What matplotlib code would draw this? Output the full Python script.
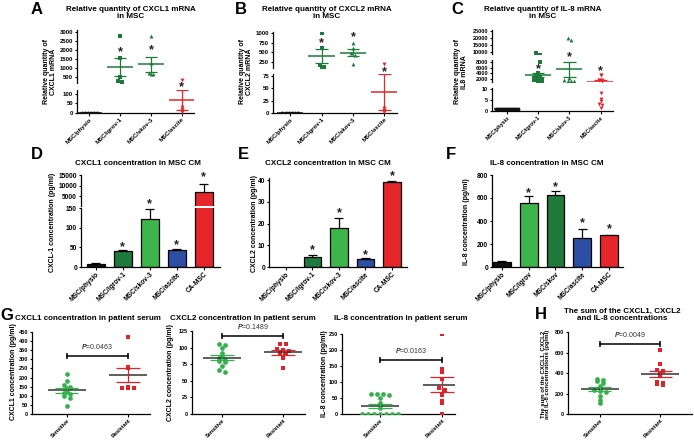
import numpy as np
import matplotlib.pyplot as plt

plt.rcParams['font.family'] = ['Liberation Sans', 'DejaVu Sans']
plt.rcParams['font.weight'] = 'bold'
plt.rcParams['mathtext.fontset'] = 'custom'
plt.rcParams['mathtext.it'] = 'Liberation Sans:italic'
plt.rcParams['mathtext.rm'] = 'Liberation Sans'

# ---- data ----
mrna_cats = ['MSC/physio', 'MSC/igrov-1', 'MSC/skov-3', 'MSC/ascite']

cxcl1_mrna_physio = [1, 1, 1, 1, 1, 1]
cxcl1_mrna_igrov = [2800, 1550, 500, 280, 220]
cxcl1_mrna_skov = [2800, 1250, 700, 680, 650]
cxcl1_mrna_ascite = [330, 30, 20, 12, 8, 6]

cxcl2_mrna_physio = [0.5, 0.5, 0.5, 0.5, 0.5, 0.5]
cxcl2_mrna_igrov = [1000, 620, 160, 130, 110]
cxcl2_mrna_skov = [750, 600, 480, 420, 200]
cxcl2_mrna_ascite = [190, 10, 7, 5, 3]

il8_mrna_physio = [1] * 12
il8_mrna_igrov = [9500, 8000, 4000, 3200, 2800, 2500, 2200, 2000, 1800, 1500, 1200, 1200]
il8_mrna_skov = [20000, 18500, 2500, 1500, 1400, 1300, 1200, 1100, 1000]
il8_mrna_ascite = [3500, 3400, 1800, 1600, 1500, 1400, 8, 5.5, 4.5, 3, 2.5, 1.5]

cm_cats = ['MSC/physio', 'MSC/igrov-1', 'MSC/skov-3', 'MSC/ascite', 'CA-MSC']
cm_cats_f = ['MSC/physio', 'MSC/igrov', 'MSC/skov', 'MSC/ascite', 'CA-MSC']
cxcl1_cm = [8, 40, 123, 42, 7000]
cxcl1_cm_err = [1.5, 3, 25, 3, 3600]
cxcl2_cm = [0, 4.5, 18, 3.7, 39.3]
cxcl2_cm_err = [0, 1, 4.5, 0.5, 0.3]
il8_cm = [40, 560, 625, 255, 275]
il8_cm_err = [8, 60, 40, 75, 5]

serum_cats = ['Sensitive', 'Resistant']
serum_cxcl1_sens = [220, 180, 160, 150, 140, 120, 115, 110, 100, 90, 45]
serum_cxcl1_res = [420, 260, 250, 145, 140, 140, 150]
serum_cxcl2_sens = [106, 104, 100, 92, 88, 85, 82, 80, 78, 72, 66, 64]
serum_cxcl2_res = [106, 105, 98, 97, 95, 92, 90, 85, 70]
serum_il8_sens = [62, 62, 62, 60, 50, 35, 30, 20, 0, 0, 0, 0, 0, 0, 0]
serum_il8_res = [250, 140, 130, 110, 80, 75, 60, 40, 35, 0]
serum_sum_sens = [340, 330, 320, 300, 270, 250, 230, 220, 210, 180, 140, 110]
serum_sum_res = [620, 490, 430, 420, 390, 370, 310, 300, 290, 285]
p_values = ['0.0463', '0.1489', '0.0163', '0.0049']

BLACK = '#111111'
DGREEN = '#1d7a3a'
LGREEN = '#3cb54a'
BLUE = '#2c4ea3'
RED = '#e5262b'
SGREEN = '#33b24c'
SRED = '#e0222b'

W, H = 694, 444
fig = plt.figure(figsize=(W / 100, H / 100), dpi=100)


def px_axes(x0, y0, x1, y1, tsize=4.3):
    ax = fig.add_axes([x0 / W, 1 - y1 / H, (x1 - x0) / W, (y1 - y0) / H])
    ax.patch.set_alpha(0)
    ax.spines['top'].set_visible(False)
    ax.spines['right'].set_visible(False)
    ax.spines['left'].set_linewidth(0.9)
    ax.spines['bottom'].set_linewidth(0.9)
    ax.tick_params(width=0.8, length=1.8, labelsize=tsize, pad=1)
    return ax


def ftext(x, y, s, **kw):
    return fig.text(x / W, 1 - y / H, s, **kw)


def broken(boxes, ylims, yticks, xlim, labels, tsize=4.3):
    axes = []
    for i, (box, yl, yt) in enumerate(zip(boxes, ylims, yticks)):
        ax = px_axes(*box, tsize=tsize)
        ax.set_xlim(*xlim)
        ax.set_ylim(*yl)
        ax.set_yticks(yt)
        if i < len(boxes) - 1:
            ax.spines['bottom'].set_visible(False)
            ax.set_xticks([])
        else:
            ax.set_xticks(range(len(labels)))
            ax.set_xticklabels(labels, rotation=45, ha='right', rotation_mode='anchor')
        axes.append(ax)
    return axes


def swarm(keys, bin_w, step):
    keys = np.asarray(keys, float)
    bins = np.round(keys / bin_w).astype(int)
    offs = np.zeros(len(keys))
    for b in np.unique(bins):
        idx = np.where(bins == b)[0]
        offs[idx] = (np.arange(len(idx)) - (len(idx) - 1) / 2) * step
    return offs


def dot_group(axes, x, vals, color, marker, mean_color, offs,
              half_mean=0.42, half_cap=0.2, ms=3):
    vals = np.asarray(vals, float)
    m = vals.mean()
    e = vals.std(ddof=1) / np.sqrt(len(vals))
    for ax in axes:
        ax.plot(x + offs, vals, ls='none', marker=marker, color=color, ms=ms, mew=0, zorder=3)
        ax.hlines(m, x - half_mean, x + half_mean, color=mean_color, lw=1.1, zorder=4)
        ax.vlines(x, m - e, m + e, color=color, lw=0.9, zorder=4)
        ax.hlines([m - e, m + e], x - half_cap, x + half_cap, color=color, lw=0.9, zorder=4)


def mrna_panel(axes, groups, step):
    styles = [(BLACK, 'o', BLACK), (DGREEN, 's', DGREEN), (DGREEN, '^', DGREEN), (RED, 'v', RED)]
    for i, (vals, (c, mk, mc)) in enumerate(zip(groups, styles)):
        offs = swarm(np.log10(np.asarray(vals, float) + 1), 0.12, step[i])
        dot_group(axes, i, vals, c, mk, mc, offs, ms=2.8)


def star(ax, x, y, size=9):
    ax.text(x, y, '*', ha='center', va='center', fontsize=size, clip_on=False, color='#222222')


def bar_panel(axes, vals, errs, colors):
    pos = np.arange(len(vals))
    vals = np.asarray(vals, float)
    tops = vals + np.asarray(errs, float)
    colors = np.array(colors)
    for ax in axes:
        # only the bars that reach into this (possibly broken) axis
        keep = vals > ax.get_ylim()[0]
        ax.bar(pos[keep], vals[keep], width=0.66, color=colors[keep], edgecolor='black',
               lw=0.9, zorder=2)
        ax.vlines(pos[keep], vals[keep], tops[keep], color='black', lw=0.9, zorder=1)
        ax.hlines(tops[keep], pos[keep] - 0.17, pos[keep] + 0.17, color='black', lw=0.9, zorder=1)


def serum_panel(ax, sens, res, ytop, ybr, ptxt):
    o1 = swarm(np.asarray(sens, float) / ytop, 0.035, 0.095)
    o2 = swarm(np.asarray(res, float) / ytop, 0.035, 0.095)
    dot_group([ax], 0, sens, SGREEN, 'o', '#333333', o1, half_mean=0.31, half_cap=0.19, ms=3.4)
    dot_group([ax], 1, res, SRED, 's', '#333333', o2, half_mean=0.31, half_cap=0.19, ms=3.2)
    cap = ytop * 0.035
    ax.plot([0, 1], [ybr, ybr], color='black', lw=1.1)
    ax.vlines([0, 1], ybr - cap, ybr + cap, color='black', lw=1.1)
    ax.text(0.5, ybr + ytop * 0.06, r'$\it{P}$=' + ptxt, ha='center', va='bottom',
            fontsize=5, fontweight='normal', color='#333333')
    ax.set_xticks([0, 1])
    ax.set_xticklabels(serum_cats, rotation=45, ha='right', rotation_mode='anchor')


title_kw = dict(ha='center', va='center', fontsize=5.8, fontweight='bold', linespacing=1.15)
ylab_kw = dict(ha='center', va='center', rotation=90, fontsize=5, fontweight='bold', linespacing=1.1)
letter_kw = dict(ha='left', va='top', fontsize=12, fontweight='bold')

# ---- A ----
axA = broken([(77, 30, 194, 83), (77, 90, 194, 113)], [(167, 3110), (0, 121)],
             [[500, 1000, 1500, 2000, 2500, 3000], [0, 50, 100]], (-0.4, 3.4), mrna_cats)
mrna_panel(axA, [cxcl1_mrna_physio, cxcl1_mrna_igrov, cxcl1_mrna_skov, cxcl1_mrna_ascite],
           [0.1, 0.13, 0.13, 0.13])
star(axA[0], 1, 1890)
star(axA[0], 2, 2000)
star(axA[1], 3, 137)
ftext(131, 13, 'Relative quantity of CXCL1 mRNA\nin MSC', **title_kw)
ftext(50, 72, 'Relative quantity of\nCXCL1 mRNA', **ylab_kw)
ftext(31, 2, 'A', **letter_kw)

# ---- B ----
axB = broken([(273, 32, 397, 68), (273, 74, 397, 113)], [(95, 1026), (0, 79)],
             [[250, 500, 750, 1000], [0, 25, 50, 75]], (-0.55, 3.4), mrna_cats)
mrna_panel(axB, [cxcl2_mrna_physio, cxcl2_mrna_igrov, cxcl2_mrna_skov, cxcl2_mrna_ascite],
           [0.1, 0.13, 0.13, 0.13])
star(axB[0], 1, 742)
star(axB[0], 2, 897)
star(axB[1], 3, 83)
ftext(327, 13, 'Relative quantity of CXCL2 mRNA\nin MSC', **title_kw)
ftext(246, 72, 'Relative quantity of\nCXCL2 mRNA', **ylab_kw)
ftext(235, 2, 'B', **letter_kw)

# ---- C ----
axC = broken([(492, 30, 613, 54), (492, 60, 613, 82), (492, 88, 613, 111)],
             [(8570, 25700), (940, 8700), (0, 10.45)],
             [[10000, 15000, 20000, 25000], [2000, 4000, 6000, 8000], [0, 5, 10]],
             (-0.48, 3.4), mrna_cats, tsize=4)
mrna_panel(axC, [il8_mrna_physio, il8_mrna_igrov, il8_mrna_skov, il8_mrna_ascite],
           [0.065, 0.13, 0.11, 0.12])
star(axC[1], 1, 5520)
star(axC[1], 2, 9760)
star(axC[1], 3, 4810)
ftext(543, 13, 'Relative quantity of IL-8 mRNA\nin MSC', **title_kw)
ftext(461, 72, 'Relative quantity of\nIL8 mRNA', **ylab_kw)
ftext(451, 2, 'C', **letter_kw)

# ---- D ----
cm_colors_de = [BLACK, DGREEN, LGREEN, BLUE, RED]
cm_colors_f = [BLACK, LGREEN, DGREEN, BLUE, RED]
axD = broken([(81, 175, 220, 206), (81, 208, 220, 267)], [(240, 15000), (0, 150)],
             [[5000, 10000, 15000], [0, 50, 100, 150]], (-0.55, 4.6), cm_cats, tsize=4.8)
bar_panel(axD, cxcl1_cm, cxcl1_cm_err, cm_colors_de)
star(axD[1], 1, 51)
star(axD[1], 2, 160)
star(axD[1], 3, 56)
star(axD[0], 4, 14000)
ftext(138, 163, 'CXCL1 concentration in MSC CM', **title_kw)
ftext(53, 222, 'CXCL-1 concentration (pg/ml)', **ylab_kw)
ftext(31, 147, 'D', **letter_kw)

# ---- E ----
axE = broken([(269, 178, 407, 267)], [(0, 41)], [[0, 10, 20, 30, 40]], (-0.64, 4.57), cm_cats,
             tsize=4.8)
bar_panel(axE, cxcl2_cm, cxcl2_cm_err, cm_colors_de)
star(axE[0], 1, 7.8)
star(axE[0], 2, 24.8)
star(axE[0], 3, 5.5)
star(axE[0], 4, 41.8)
ftext(328, 163, 'CXCL2 concentration in MSC CM', **title_kw)
ftext(255, 223, 'CXCL2 concentration (pg/ml)', **ylab_kw)
ftext(238, 147, 'E', **letter_kw)

# ---- F ----
axF = broken([(492, 175, 623, 267)], [(0, 800)], [[0, 200, 400, 600, 800]], (-0.37, 4.52),
             cm_cats_f, tsize=4.8)
bar_panel(axF, il8_cm, il8_cm_err, cm_colors_f)
star(axF[0], 1, 643)
star(axF[0], 2, 696)
star(axF[0], 3, 383)
star(axF[0], 4, 330)
ftext(547, 163, 'IL-8 concentration in MSC CM', **title_kw)
ftext(467, 222, 'IL-8 concentration (pg/ml)', **ylab_kw)
ftext(446, 147, 'F', **letter_kw)

# ---- G ----
axG1 = px_axes(32, 332, 150, 414, tsize=4)
axG1.set_xlim(-0.57, 1.36)
axG1.set_ylim(0, 450)
axG1.set_yticks(range(0, 451, 50))
serum_panel(axG1, serum_cxcl1_sens, serum_cxcl1_res, 450, 320, p_values[0])
ftext(88, 318, 'CXCL1 concentration in patient serum', **title_kw)
ftext(14, 372, 'CXCL1 concentration (pg/ml)', **ylab_kw)
ftext(0, 308, 'G', **letter_kw)

axG2 = px_axes(192, 331, 305, 414, tsize=4)
axG2.set_xlim(-0.49, 1.36)
axG2.set_ylim(0, 125)
axG2.set_yticks([0, 25, 50, 75, 100, 125])
serum_panel(axG2, serum_cxcl2_sens, serum_cxcl2_res, 125, 118, p_values[1])
ftext(243, 318, 'CXCL2 concentration in patient serum', **title_kw)
ftext(171, 372, 'CXCL2 concentration (pg/ml)', **ylab_kw)

axG3 = px_axes(342, 334, 455, 414, tsize=4)
axG3.set_xlim(-0.61, 1.21)
axG3.set_ylim(0, 250)
axG3.set_yticks([0, 50, 100, 150, 200, 250])
serum_panel(axG3, serum_il8_sens, serum_il8_res, 250, 168, p_values[2])
ftext(401, 318, 'IL-8 concentration in patient serum', **title_kw)
ftext(324, 374, 'IL-8 concentration (pg/ml)', **ylab_kw)

# ---- H ----
axH = px_axes(568, 332, 692, 414, tsize=4)
axH.set_xlim(-0.53, 1.53)
axH.set_ylim(0, 800)
axH.set_yticks([0, 200, 400, 600, 800])
serum_panel(axH, serum_sum_sens, serum_sum_res, 800, 680, p_values[3])
ftext(622, 315, 'The sum of the CXCL1, CXCL2\nand IL-8 concentrations', **title_kw)
ftext(545, 374, 'The sum of the CXCL1, CXCL2\nand IL-8 concentrations (pg/ml)',
      **dict(ylab_kw, fontsize=4.3))
ftext(535, 307, 'H', **letter_kw)

fig.savefig('out.png', dpi=100)
